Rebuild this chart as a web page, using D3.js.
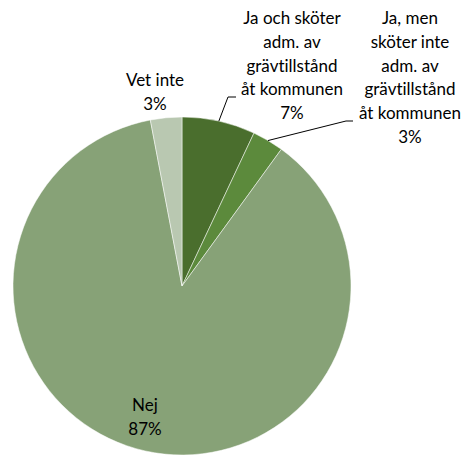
<!DOCTYPE html>
<html>
<head>
<meta charset="utf-8">
<style>
  body, html { margin: 0; background: #fff; }
  text { font-family: Lato, "Open Sans", sans-serif; font-size: 17px; fill: #000; font-variant-ligatures: none; }
</style>
<script src="https://cdn.jsdelivr.net/npm/d3@7"></script>
</head>
<body>
<svg width="466" height="455"></svg>
<script>
// data
var categories = ['Ja och sköter adm. av grävtillstånd åt kommunen',
                  'Ja, men sköter inte adm. av grävtillstånd åt kommunen',
                  'Nej', 'Vet inte'];
var values = [7, 3, 87, 3];
var labelLines = [
  ['Ja och sköter', 'adm. av', 'grävtillstånd', 'åt kommunen', '7%'],
  ['Ja, men', 'sköter inte', 'adm. av', 'grävtillstånd', 'åt kommunen', '3%'],
  ['Nej', '87%'],
  ['Vet inte', '3%']
];
var colors = ['#4a6e2d', '#5c8a3c', '#87a277', '#b9c8b1'];

// layout
var cx = 182, cy = 286, r = 169;
var labelPos = [ {x: 292, y: 18, lead: [236, 97, 228, 97]},
                 {x: 410, y: 18, lead: [353, 121, 346, 121]},
                 {x: 145, y: 405},
                 {x: 155, y: 80} ];
var lineH = 23.8;

var svg = d3.select('svg');
var g = svg.append('g').attr('transform', 'translate(' + cx + ',' + cy + ')');

var pie = d3.pie().sort(null).value(function(d){ return d; });
var arcs = pie(values);
var arc = d3.arc().innerRadius(0).outerRadius(r);

g.selectAll('path').data(arcs).enter()
  .append('path')
  .attr('d', arc)
  .attr('fill', function(d, i){ return colors[i]; })
  .attr('stroke', '#ffffff')
  .attr('stroke-width', 0.5);

// leader lines
arcs.forEach(function(a, i){
  var lp = labelPos[i];
  if (!lp.lead) return;
  var mid = (a.startAngle + a.endAngle) / 2;
  var px = cx + r * Math.sin(mid), py = cy - r * Math.cos(mid);
  svg.append('polyline')
    .attr('points', [lp.lead[0], lp.lead[1], lp.lead[2], lp.lead[3], px, py].join(','))
    .attr('fill', 'none')
    .attr('stroke', '#000')
    .attr('stroke-width', 1);
});

// labels
labelLines.forEach(function(lines, i){
  var lp = labelPos[i];
  var t = svg.append('text').attr('text-anchor', 'middle');
  lines.forEach(function(s, k){
    t.append('tspan').attr('x', lp.x).attr('y', lp.y + k * lineH + 6).text(s);
  });
});
</script>
</body>
</html>
